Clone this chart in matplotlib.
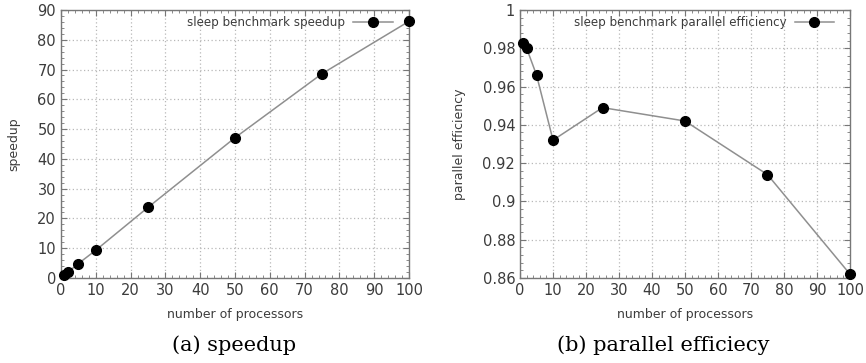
"""Sleep benchmark: speedup and parallel efficiency (gnuplot-like style)"""

import matplotlib
matplotlib.use('Agg')
import matplotlib.pyplot as plt
from matplotlib.ticker import MultipleLocator

# Данные
processors = [1, 2, 5, 10, 25, 50, 75, 100]
speedup = [0.98, 1.96, 4.83, 9.32, 23.7, 47.1, 68.6, 86.2]
efficiency = [0.983, 0.980, 0.966, 0.932, 0.949, 0.942, 0.914, 0.862]
eff_ticks = [0.86, 0.88, 0.9, 0.92, 0.94, 0.96, 0.98, 1.0]
eff_labels = ['0.86', '0.88', '0.9', '0.92', '0.94', '0.96', '0.98', '1']

LINE_COLOR = '#8f8f8f'
TEXT_COLOR = '#3c3c3c'
GRID_COLOR = '#b8b8b8'


def style_axes(ax):
    for side in ax.spines.values():
        side.set_color('#777777')
        side.set_linewidth(1.0)
    ax.tick_params(which='both', direction='in', top=True, right=True,
                   colors='#777777', labelcolor=TEXT_COLOR, labelsize=10.5)
    ax.tick_params(which='major', length=4)
    ax.tick_params(which='minor', length=2)
    ax.grid(True, which='major', linestyle=(0, (1, 2)), color=GRID_COLOR,
            linewidth=0.9)
    ax.set_axisbelow(True)


def draw_series(ax, y, label, anchor_x):
    ax.plot(processors, y, '-', color=LINE_COLOR, linewidth=1.1,
            marker='o', markersize=7, markerfacecolor='black',
            markeredgecolor='black', label=label, clip_on=False, zorder=3)
    leg = ax.legend(loc='upper right', frameon=False, fontsize=8.6,
                    markerfirst=False, handlelength=3.3, handletextpad=0.7,
                    borderaxespad=0.1, bbox_to_anchor=(anchor_x, 1.0))
    for t in leg.get_texts():
        t.set_color(TEXT_COLOR)


fig = plt.figure(figsize=(8.66, 3.63), dpi=100)

# (a) speedup
ax1 = fig.add_axes([0.0704, 0.2342, 0.4019, 0.7383])
draw_series(ax1, speedup, 'sleep benchmark speedup', 0.97)
ax1.set_xlim(0, 100)
ax1.set_ylim(0, 90)
ax1.xaxis.set_major_locator(MultipleLocator(10))
ax1.xaxis.set_minor_locator(MultipleLocator(2))
ax1.yaxis.set_major_locator(MultipleLocator(10))
ax1.yaxis.set_minor_locator(MultipleLocator(2))
style_axes(ax1)
ax1.set_xlabel('number of processors', fontsize=9, color=TEXT_COLOR, labelpad=7)
ax1.set_ylabel('speedup', fontsize=9, color=TEXT_COLOR, labelpad=12)

# (b) parallel efficiency
ax2 = fig.add_axes([0.6005, 0.2342, 0.3810, 0.7383])
draw_series(ax2, efficiency, 'sleep benchmark parallel efficiency', 0.97)
ax2.set_xlim(0, 100)
ax2.set_ylim(0.86, 1.0)
ax2.xaxis.set_major_locator(MultipleLocator(10))
ax2.xaxis.set_minor_locator(MultipleLocator(2))
ax2.set_yticks(eff_ticks)
ax2.set_yticklabels(eff_labels)
ax2.yaxis.set_minor_locator(MultipleLocator(0.004))
style_axes(ax2)
ax2.set_xlabel('number of processors', fontsize=9, color=TEXT_COLOR, labelpad=7)
ax2.set_ylabel('parallel efficiency', fontsize=9, color=TEXT_COLOR, labelpad=12)

# Подписи подрисунков
fig.text(0.27, 0.05, '(a) speedup', ha='center', va='center',
         fontsize=15, family='DejaVu Serif')
fig.text(0.766, 0.05, '(b) parallel efficiecy', ha='center', va='center',
         fontsize=15, family='DejaVu Serif')

fig.savefig('out.png', dpi=100)
